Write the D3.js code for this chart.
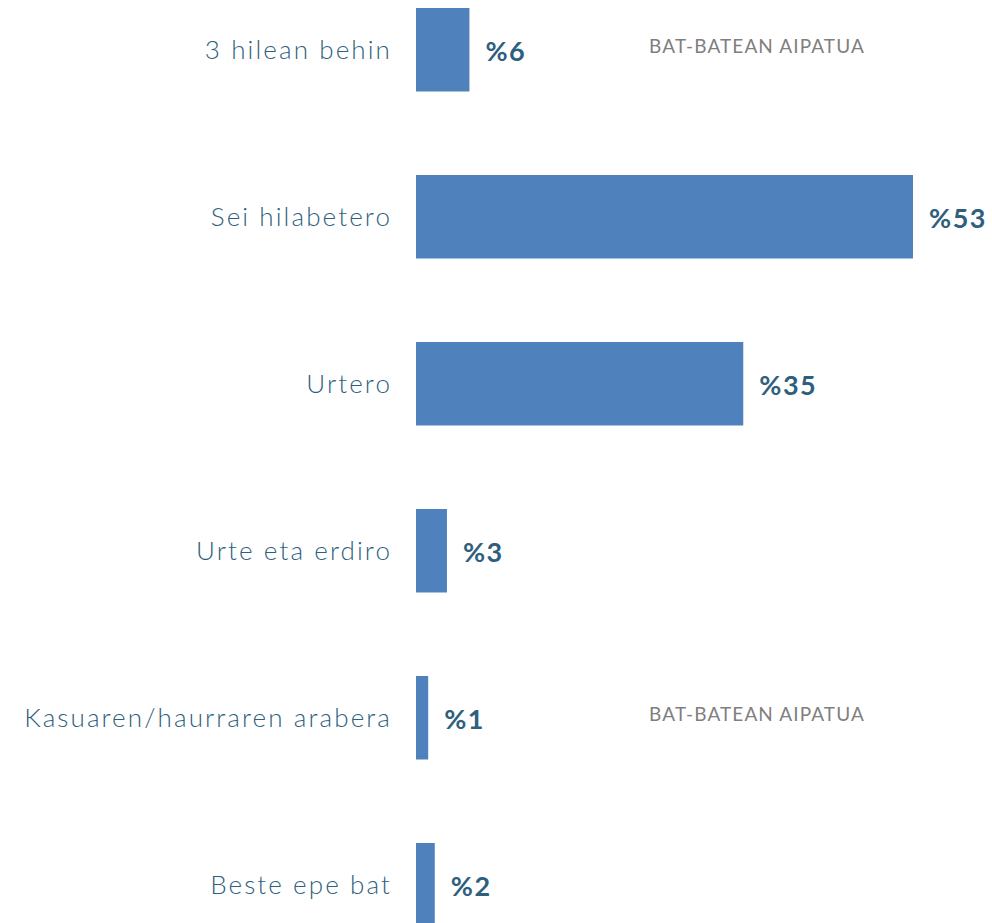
<!DOCTYPE html>
<html lang="eu">
<head>
  <meta charset="UTF-8">
  <title>Maiztasuna</title>
  <script src="https://cdn.jsdelivr.net/npm/d3@7"></script>
  <style>
    body { margin: 0; background: #ffffff; }
    #chart { width: 992px; height: 923px; display: block; }
    text { font-family: "Century Gothic", Lato, "Noto Sans", sans-serif; }
  </style>
</head>
<body>
  <svg id="chart" width="992" height="923"></svg>
  <script>
    // data
    var categories = ["3 hilean behin", "Sei hilabetero", "Urtero", "Urte eta erdiro", "Kasuaren/haurraren arabera", "Beste epe bat"];
    var values = [5.7, 53, 34.9, 3.3, 1.3, 2.0];
    var notes = ["BAT-BATEAN AIPATUA", "", "", "", "BAT-BATEAN AIPATUA", ""];

    var rows = categories.map(function(c, i) {
      return { cat: c, val: values[i], note: notes[i] };
    });

    var svg = d3.select("#chart");

    var x = d3.scaleLinear().domain([0, 53]).range([416, 913]);
    var y = d3.scaleBand()
      .domain(categories)
      .range([-33.75, 968.25])
      .paddingInner(0.5)
      .paddingOuter(0.25);

    var fmt = function(v) { return "%" + Math.round(v); };

    svg.selectAll(".bar")
      .data(rows)
      .enter()
      .append("rect")
      .attr("class", "bar")
      .attr("x", x(0))
      .attr("y", d => y(d.cat))
      .attr("width", d => x(d.val) - x(0))
      .attr("height", y.bandwidth())
      .attr("fill", "#4f81bd");

    // category labels, right aligned left of the bars
    svg.selectAll(".cat")
      .data(rows)
      .enter()
      .append("text")
      .attr("class", "cat")
      .attr("x", 392)
      .attr("y", d => y(d.cat) + y.bandwidth() / 2)
      .attr("dy", "0.35em")
      .attr("text-anchor", "end")
      .attr("font-size", 26)
      .attr("font-weight", 300)
      .attr("letter-spacing", 2.1)
      .attr("fill", "#2f5f7e")
      .text(d => d.cat);

    // value labels
    svg.selectAll(".val")
      .data(rows)
      .enter()
      .append("text")
      .attr("class", "val")
      .attr("x", d => x(d.val) + 16)
      .attr("y", d => y(d.cat) + y.bandwidth() / 2 + 2)
      .attr("dy", "0.35em")
      .attr("font-size", 27)
      .attr("font-weight", "bold")
      .attr("letter-spacing", 1.5)
      .attr("fill", "#2f5f7e")
      .text(d => fmt(d.val));

    svg.selectAll(".note")
      .data(rows.filter(d => d.note))
      .enter()
      .append("text")
      .attr("class", "note")
      .attr("x", 757)
      .attr("y", d => y(d.cat) + y.bandwidth() / 2 - 3)
      .attr("dy", "0.35em")
      .attr("text-anchor", "middle")
      .attr("font-size", 19)
      .attr("letter-spacing", 1.1)
      .attr("fill", "#7f7f7f")
      .text(d => d.note);
  </script>
</body>
</html>
